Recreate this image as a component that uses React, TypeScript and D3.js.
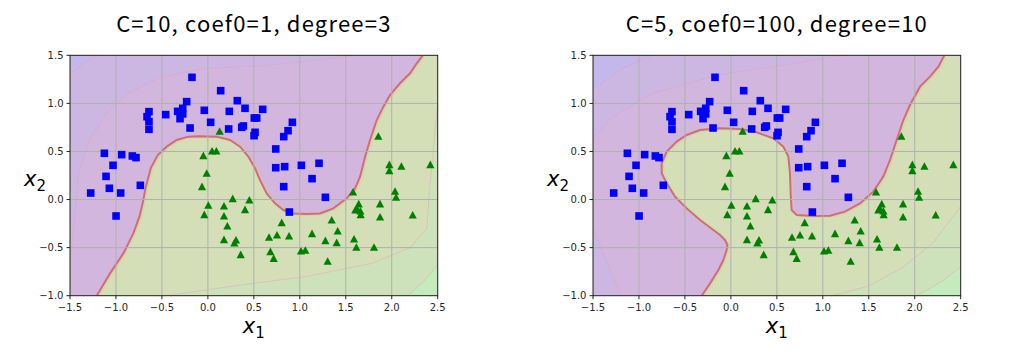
import React from "react";
import * as d3 from "d3";

type P = [number, number];

const xTicks = [-1.5, -1.0, -0.5, 0.0, 0.5, 1.0, 1.5, 2.0, 2.5];
const yTicks = [-1.0, -0.5, 0.0, 0.5, 1.0, 1.5];
const titles = ["C=10, coef0=1, degree=3", "C=5, coef0=100, degree=10"];

// class 0 (blue squares)
const blueX = [-0.173, 0.139, 0.320, -0.231, -0.641, -0.459, -0.329, -0.274, -0.274, -0.303, -0.039, 0.233, 0.404, 0.596, -0.662, -0.641, -0.641, 0.030, -0.194, 0.226, 0.368, 0.386, 0.505, 0.531, 0.513, 0.502, 0.919, 0.872, 0.825, 0.738, 0.738, 0.835, 1.017, 1.209, 1.133, 0.825, 1.278, 0.886, -1.126, -0.938, -0.822, -0.782, -1.032, -1.108, -1.072, -1.275, -0.949, -0.735, -0.999];
const blueY = [1.271, 1.132, 1.028, 1.018, 0.914, 0.883, 0.917, 0.949, 0.890, 0.841, 0.928, 0.917, 0.949, 0.938, 0.862, 0.810, 0.730, 0.803, 0.744, 0.734, 0.751, 0.765, 0.848, 0.848, 0.699, 0.664, 0.803, 0.716, 0.654, 0.526, 0.331, 0.342, 0.356, 0.377, 0.217, 0.134, 0.023, -0.130, 0.481, 0.467, 0.453, 0.436, 0.356, 0.241, 0.117, 0.068, 0.068, 0.148, -0.171];

// class 1 (green triangles)
const greenX = [0.128, 0.045, 0.092, -0.049, -0.013, -0.064, 1.854, 1.974, 1.974, 2.105, 2.420, 2.036, 2.047, 1.873, 1.873, 2.228, 1.579, 1.641, 1.619, 1.659, 1.604, 1.662, 0.005, -0.039, 0.175, 0.175, 0.270, 0.451, 0.404, 0.212, 0.175, 0.306, 0.288, 0.357, 0.803, 0.665, 0.752, 0.883, 0.680, 0.716, 1.013, 1.060, 1.133, 1.278, 1.347, 1.412, 1.401, 1.303, 1.590, 1.615, 1.807];
const greenY = [0.709, 0.505, 0.505, 0.456, 0.273, 0.134, 0.657, 0.363, 0.300, 0.345, 0.363, 0.085, 0.023, -0.046, -0.182, -0.161, 0.078, -0.046, -0.092, -0.119, -0.109, -0.157, -0.060, -0.157, -0.067, -0.171, 0.009, -0.005, -0.105, -0.275, -0.417, -0.421, -0.452, -0.573, -0.241, -0.393, -0.369, -0.379, -0.542, -0.612, -0.535, -0.528, -0.355, -0.428, -0.213, -0.327, -0.449, -0.643, -0.411, -0.497, -0.497];

// decision boundary, left model
const boundaryA: P[] = [[-1.21, -1.0], [-1.065, -0.768], [-0.92, -0.56], [-0.811, -0.352], [-0.745, -0.178], [-0.71, -0.04], [-0.675, 0.134], [-0.62, 0.33], [-0.545, 0.463], [-0.448, 0.55], [-0.34, 0.619], [-0.213, 0.654], [-0.086, 0.657], [0.096, 0.654], [0.241, 0.619], [0.35, 0.55], [0.44, 0.446], [0.513, 0.325], [0.567, 0.203], [0.64, 0.064], [0.73, -0.04], [0.821, -0.109], [0.93, -0.144], [1.075, -0.15], [1.22, -0.144], [1.365, -0.092], [1.51, 0.012], [1.601, 0.116], [1.655, 0.238], [1.71, 0.446], [1.764, 0.619], [1.837, 0.827], [1.909, 0.966], [1.981, 1.087], [2.09, 1.209], [2.199, 1.313], [2.272, 1.417], [2.337, 1.5]];
// decision boundary, right model
const boundaryB: P[] = [[-0.318, -1.0], [-0.227, -0.872], [-0.136, -0.733], [-0.082, -0.629], [-0.046, -0.525], [-0.038, -0.473], [-0.064, -0.421], [-0.118, -0.369], [-0.191, -0.317], [-0.336, -0.213], [-0.481, -0.092], [-0.608, 0.03], [-0.698, 0.168], [-0.753, 0.273], [-0.753, 0.377], [-0.698, 0.498], [-0.59, 0.602], [-0.481, 0.671], [-0.336, 0.723], [-0.118, 0.741], [0.099, 0.734], [0.28, 0.699], [0.462, 0.637], [0.571, 0.55], [0.625, 0.446], [0.643, 0.273], [0.65, 0.064], [0.661, -0.109], [0.716, -0.161], [0.897, -0.171], [1.078, -0.168], [1.241, -0.126], [1.404, -0.04], [1.549, 0.082], [1.658, 0.238], [1.731, 0.411], [1.803, 0.619], [1.876, 0.827], [1.948, 0.983], [2.057, 1.174], [2.166, 1.278], [2.257, 1.382], [2.322, 1.5]];

// decision-function level lines
const purpleArcA: P[] = [[-1.5, -0.68], [-1.45, -0.2], [-1.41, 0.25], [-1.3, 0.6], [-1.1, 0.9], [-0.88, 1.1], [-0.52, 1.27], [-0.05, 1.36], [0.57, 1.39], [1.1, 1.44], [1.6, 1.5]];
const blueCornerA: P[] = [[-1.5, 1.3], [-1.35, 1.42], [-1.2, 1.5]];
const greenArcA: P[] = [[-0.45, -1.0], [0.35, -0.89], [1.075, -0.8], [1.8, -0.66], [2.2, -0.5], [2.38, -0.3], [2.42, 0.2], [2.47, 0.7], [2.5, 1.0]];
const greenCornerA: P[] = [[2.18, -1.0], [2.35, -0.85], [2.5, -0.68]];

const purpleArcB: P[] = [[-1.5, 0.63], [-1.3, 0.85], [-0.86, 1.1], [-0.136, 1.295], [0.59, 1.4], [1.15, 1.49], [1.3, 1.5]];
const purpleLowB: P[] = [[-1.5, -0.28], [-1.35, -0.65], [-1.19, -1.0]];
const blueCornerB: P[] = [[-1.5, 1.14], [-1.2, 1.35], [-0.86, 1.5]];
const greenArcB: P[] = [[1.1, -1.0], [1.5, -0.9], [1.876, -0.7], [2.2, -0.45], [2.5, -0.07]];
const greenCornerB: P[] = [[2.02, -1.0], [2.3, -0.85], [2.5, -0.7]];

const W = 367.7;
const H = 240.4;
const TOP = 55.3;
const LEFTS = [70, 593];

const C = {
  purple: "#D3B6DE",
  purpleOuter: "#CCB7E3",
  blueCorner: "#C3B7EC",
  green: "#D4DFB7",
  greenOuter: "#CDE2BA",
  greenCorner: "#C3EBBB",
  edge: "#CD6E7C",
};

const fmt = (v: number) => v.toFixed(1).replace("-", "\u2212");

function Panel({ idx }: { idx: number }) {
  const left = LEFTS[idx];
  const x = d3.scaleLinear().domain([-1.5, 2.5]).range([left, left + W]);
  const y = d3.scaleLinear().domain([-1.0, 1.5]).range([TOP + H, TOP]);
  const line = d3.line<P>().x((d) => x(d[0])).y((d) => y(d[1]));
  const poly = (pts: P[]) => line(pts) + "Z";
  const clipId = `clip${idx}`;
  const boundary = idx === 0 ? boundaryA : boundaryB;
  const greenRegion: P[] = [...boundary, [2.5, 1.5], [2.5, -1.0]];

  const bands: { pts: P[]; arc: P[]; fill: string }[] = [];
  if (idx === 0) {
    bands.push({ pts: [...purpleArcA, [-1.5, 1.5]], arc: purpleArcA, fill: C.purpleOuter });
    bands.push({ pts: [...blueCornerA, [-1.5, 1.5]], arc: blueCornerA, fill: C.blueCorner });
    bands.push({ pts: [...greenArcA, [2.5, -1.0]], arc: greenArcA, fill: C.greenOuter });
    bands.push({ pts: [...greenCornerA, [2.5, -1.0]], arc: greenCornerA, fill: C.greenCorner });
  } else {
    bands.push({ pts: [...purpleArcB, [-1.5, 1.5]], arc: purpleArcB, fill: C.purpleOuter });
    bands.push({ pts: [...purpleLowB, [-1.5, -1.0]], arc: purpleLowB, fill: C.purpleOuter });
    bands.push({ pts: [...blueCornerB, [-1.5, 1.5]], arc: blueCornerB, fill: C.blueCorner });
    bands.push({ pts: [...greenArcB, [2.5, -1.0]], arc: greenArcB, fill: C.greenOuter });
    bands.push({ pts: [...greenCornerB, [2.5, -1.0]], arc: greenCornerB, fill: C.greenCorner });
  }

  const s = 7.6;
  const t = 8.2;
  const tri = (cx: number, cy: number) =>
    `M${cx},${cy - t / 2}L${cx - t / 2},${cy + t / 2 - 0.6}L${cx + t / 2},${cy + t / 2 - 0.6}Z`;

  return (
    <g>
      <defs>
        <clipPath id={clipId}>
          <rect x={left} y={TOP} width={W} height={H} />
        </clipPath>
      </defs>
      <text x={left + W / 2} y={32} textAnchor="middle" fontFamily="'Noto Sans CJK KR', 'Noto Sans', sans-serif" fontSize={22} letterSpacing={1.2} fill="#000">
        {titles[idx]}
      </text>
      <g clipPath={`url(#${clipId})`}>
        <rect x={left} y={TOP} width={W} height={H} fill={C.purple} />
        <path d={poly(greenRegion)} fill={C.green} />
        {bands.map((b, i) => (
          <path key={i} d={poly(b.pts)} fill={b.fill} />
        ))}
        {bands.map((b, i) => (
          <path key={"a" + i} d={line(b.arc) || ""} fill="none" stroke="#E3A0BE" strokeOpacity={0.45} strokeWidth={1} />
        ))}
        <path d={line(boundary) || ""} fill="none" stroke="#E2C890" strokeWidth={3} strokeOpacity={0.5} transform="translate(1.2,0.6)" />
        <path d={line(boundary) || ""} fill="none" stroke={C.edge} strokeWidth={2} />
        {xTicks.map((v) => (
          <line key={"gx" + v} x1={x(v)} x2={x(v)} y1={TOP} y2={TOP + H} stroke="#b0b0b0" strokeWidth={1} />
        ))}
        {yTicks.map((v) => (
          <line key={"gy" + v} x1={left} x2={left + W} y1={y(v)} y2={y(v)} stroke="#b0b0b0" strokeWidth={1} />
        ))}
        {blueX.map((v, i) => (
          <rect key={"b" + i} x={x(v) - s / 2} y={y(blueY[i]) - s / 2} width={s} height={s} fill="#0000ff" />
        ))}
        {greenX.map((v, i) => (
          <path key={"g" + i} d={tri(x(v), y(greenY[i]))} fill="#008000" />
        ))}
      </g>
      <rect x={left} y={TOP} width={W} height={H} fill="none" stroke="#222" strokeWidth={1} />
      {xTicks.map((v) => (
        <g key={"tx" + v}>
          <line x1={x(v)} x2={x(v)} y1={TOP + H} y2={TOP + H + 3.5} stroke="#222" />
          <text x={x(v)} y={TOP + H + 15} textAnchor="middle" fontFamily="'DejaVu Sans', sans-serif" fontSize={10} fill="#262626">
            {fmt(v)}
          </text>
        </g>
      ))}
      {yTicks.map((v) => (
        <g key={"ty" + v}>
          <line x1={left - 3.5} x2={left} y1={y(v)} y2={y(v)} stroke="#222" />
          <text x={left - 6.5} y={y(v) + 3.6} textAnchor="end" fontFamily="'DejaVu Sans', sans-serif" fontSize={10} fill="#262626">
            {fmt(v)}
          </text>
        </g>
      ))}
      <text x={left + W / 2} y={TOP + H + 37} textAnchor="middle" fontFamily="'DejaVu Sans', sans-serif" fontSize={21} fill="#000">
        <tspan fontStyle="italic">x</tspan>
        <tspan fontSize={15} dy={5}>1</tspan>
      </text>
      <text x={left - 35} y={TOP + H / 2 + 10} textAnchor="middle" fontFamily="'DejaVu Sans', sans-serif" fontSize={21} fill="#000">
        <tspan fontStyle="italic">x</tspan>
        <tspan fontSize={15} dy={5}>2</tspan>
      </text>
    </g>
  );
}

export default function App() {
  return (
    <svg width={1010} height={359} style={{ position: "absolute", left: 0, top: 0, background: "#fff" }}>
      <rect width={1010} height={359} fill="#fff" />
      <Panel idx={0} />
      <Panel idx={1} />
    </svg>
  );
}
